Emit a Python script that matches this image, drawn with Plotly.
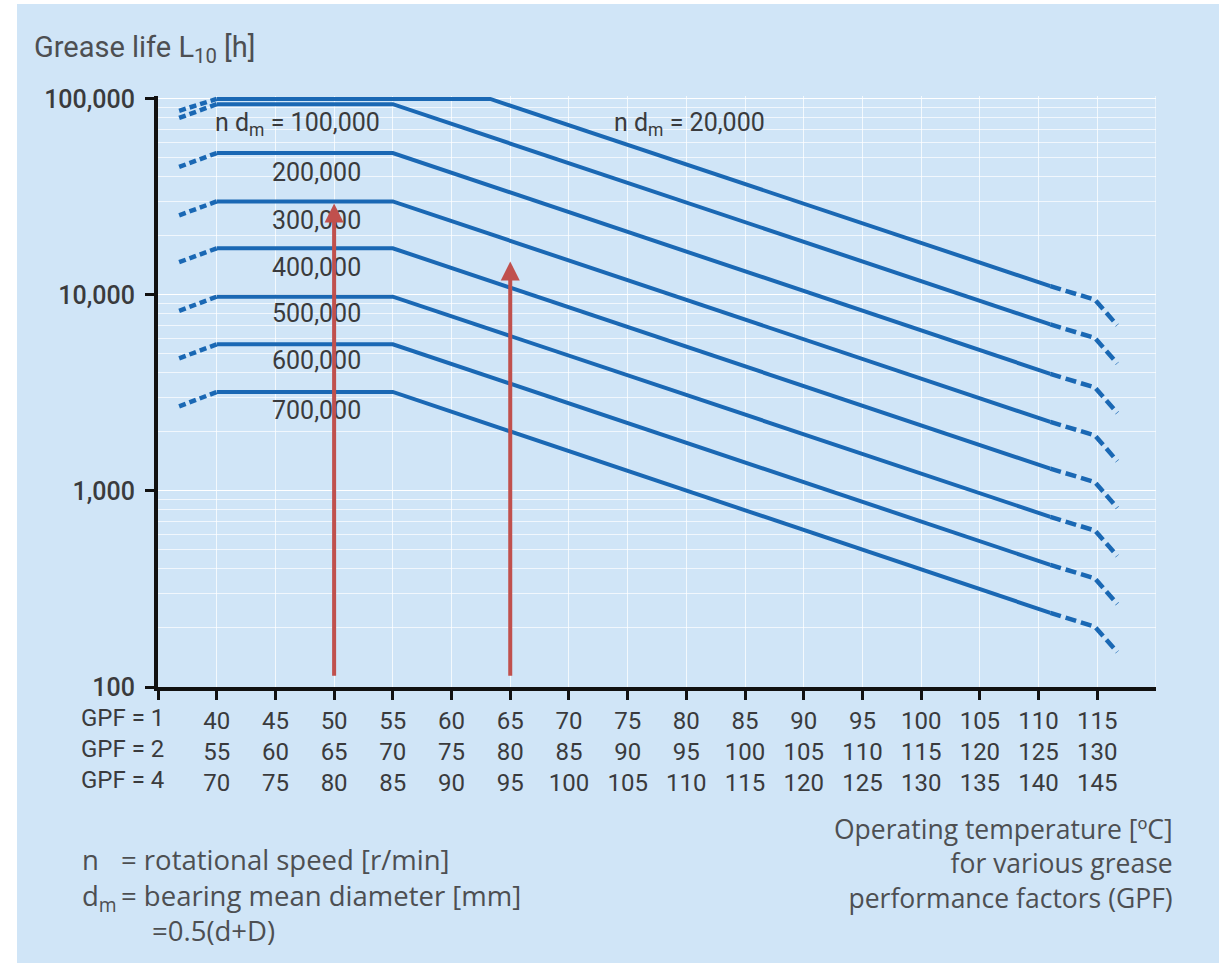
import math
import plotly.graph_objects as go

# ---------------- data ----------------
series_names = ["n d<sub>m</sub> = 20,000", "100,000", "200,000", "300,000",
                "400,000", "500,000", "600,000", "700,000"]

# temperatures (GPF = 1 scale, °C)
left_dash_temp = 36.8
plateau_start_temp = 40
knee_temps = [63.3, 55, 55, 55, 55, 55, 55, 55]
solid_end_temp = 111
dash_mid_temp = 114.8
dash_end_temp = 116.7

# grease life L10 [h]
left_start_life = [87000, 80000, 45000, 25500, 14700, 8300, 4750, 2700]
plateau_life = [100000, 94000, 53000, 30000, 17300, 9800, 5600, 3200]
solid_end_life = [11100, 7080, 3960, 2250, 1300, 738, 420, 239]
dash_mid_life = [9450, 6030, 3370, 1920, 1110, 628, 358, 203]
dash_end_life = [7000, 4470, 2500, 1420, 820, 466, 265, 151]

# curve labels
label_texts = ["n d<sub>m</sub> = 20,000", "n d<sub>m</sub> = 100,000", "200,000", "300,000",
               "400,000", "500,000", "600,000", "700,000"]
label_temps = [73.7, 39.7, 48.5, 48.5, 48.5, 48.5, 48.5, 48.5]
label_life = [74500, 74500, 42200, 24000, 13800, 8050, 4630, 2570]
label_anchor = ["left", "left", "center", "center", "center", "center", "center", "center"]

# x axis tick labels for three grease performance factors
x_ticks = [40, 45, 50, 55, 60, 65, 70, 75, 80, 85, 90, 95, 100, 105, 110, 115]
gpf1 = ["40", "45", "50", "55", "60", "65", "70", "75", "80", "85", "90", "95", "100", "105", "110", "115"]
gpf2 = ["55", "60", "65", "70", "75", "80", "85", "90", "95", "100", "105", "110", "115", "120", "125", "130"]
gpf4 = ["70", "75", "80", "85", "90", "95", "100", "105", "110", "115", "120", "125", "130", "135", "140", "145"]

y_ticks = [100, 1000, 10000, 100000]
y_tick_labels = ["100", "1,000", "10,000", "100,000"]

# red arrows
arrow_temps = [50, 65]
arrow_base_life = [112, 112]
arrow_tip_life = [29300, 14800]

# ---------------- styling ----------------
W, H = 1227, 963
L, R, T, B = 158, 71, 96, 276
PW, PH = W - L - R, H - T - B
BG = "#d0e5f7"
LINE = "#1a68b4"
TXT = "#4d4f52"
TICKTXT = "#3a3b3d"
ARROW = "#c0504d"
FONT = "Roboto, sans-serif"
FONT2 = "'Open Sans', sans-serif"
GRID = "rgba(255,255,255,0.75)"


def px_x(px):
    return (px - L) / PW


def px_y(py):
    return (H - B - py) / PH


fig = go.Figure()

for i in range(len(series_names)):
    # left dashed part
    fig.add_trace(go.Scatter(
        x=[left_dash_temp, plateau_start_temp],
        y=[left_start_life[i], plateau_life[i]],
        mode="lines", line=dict(color=LINE, width=4.5, dash="7px,4px"),
        hoverinfo="skip", showlegend=False))
    # solid part
    fig.add_trace(go.Scatter(
        x=[plateau_start_temp, knee_temps[i], solid_end_temp],
        y=[plateau_life[i], plateau_life[i], solid_end_life[i]],
        mode="lines", line=dict(color=LINE, width=4),
        name=series_names[i], showlegend=False))
    # right dashed part
    fig.add_trace(go.Scatter(
        x=[solid_end_temp, dash_mid_temp, dash_end_temp],
        y=[solid_end_life[i], dash_mid_life[i], dash_end_life[i]],
        mode="lines", line=dict(color=LINE, width=4.5, dash="11px,5px"),
        hoverinfo="skip", showlegend=False))

annotations = []

for t, x, yv, anc in zip(label_texts, label_temps, label_life, label_anchor):
    annotations.append(dict(
        x=x, y=math.log10(yv), xref="x", yref="y", text=t, showarrow=False,
        xanchor=anc, yanchor="middle", font=dict(family=FONT, size=25, color=TICKTXT)))

# y axis title
annotations.append(dict(
    x=px_x(32), y=px_y(49), xref="paper", yref="paper",
    text="Grease life L<sub>10</sub> [h]", showarrow=False,
    xanchor="left", yanchor="middle", font=dict(family=FONT, size=29, color=TXT)))

# GPF row labels
annotations.append(dict(
    x=px_x(166), y=px_y(749), xref="paper", yref="paper",
    text="GPF = 1<br>GPF = 2<br>GPF = 4", showarrow=False, align="right",
    xanchor="right", yanchor="middle", font=dict(family=FONT, size=24, color=TICKTXT)))

# bottom-left legend text
bl_font = dict(family=FONT2, size=27.5, color=TXT)
bl = [
    dict(x=px_x(80), y=px_y(859), text="n", xanchor="left"),
    dict(x=px_x(119), y=px_y(859), text="= rotational speed [r/min]", xanchor="left"),
    dict(x=px_x(80), y=px_y(897), text="d<sub>m</sub>", xanchor="left"),
    dict(x=px_x(119), y=px_y(895), text="= bearing mean diameter [mm]", xanchor="left"),
    dict(x=px_x(150), y=px_y(930), text="=0.5(d+D)", xanchor="left"),
]
for a in bl:
    a.update(xref="paper", yref="paper", showarrow=False, yanchor="middle", font=bl_font)
annotations += bl

# bottom-right axis description (one multi-line text)
annotations.append(dict(
    x=px_x(1175), y=px_y(863), xref="paper", yref="paper",
    text="Operating temperature [ºC]<br>for various grease<br>performance factors (GPF)",
    showarrow=False, align="right", xanchor="right", yanchor="middle",
    font=dict(family=FONT2, size=26.5, color=TXT)))

# red arrows (drawn last so they sit on top of the labels)
for xt, yb, ytip in zip(arrow_temps, arrow_base_life, arrow_tip_life):
    annotations.append(dict(
        x=xt, y=math.log10(ytip), ax=xt, ay=math.log10(yb),
        xref="x", yref="y", axref="x", ayref="y", text="",
        showarrow=True, arrowhead=2, arrowsize=0.95, arrowwidth=4,
        arrowcolor=ARROW, standoff=0))

shapes = [
    # light blue panel
    dict(type="rect", xref="paper", yref="paper",
         x0=px_x(17), x1=px_x(1219), y0=px_y(963), y1=px_y(4),
         fillcolor=BG, line=dict(width=0), layer="below"),
    # right border gridline of the plotting grid
    dict(type="line", xref="x", yref="paper", x0=120, x1=120, y0=0, y1=1,
         line=dict(color=GRID, width=1.2), layer="below"),
]

fig.update_layout(
    width=W, height=H,
    margin=dict(l=L, r=R, t=T, b=B, pad=0),
    paper_bgcolor="white", plot_bgcolor=BG,
    font=dict(family=FONT, color=TICKTXT),
    showlegend=False,
    annotations=annotations, shapes=shapes,
    xaxis=dict(
        range=[35, 120], tickmode="array", tickvals=x_ticks,
        ticktext=[f"{a}<br>{b}<br>{c}" for a, b, c in zip(gpf1, gpf2, gpf4)],
        tickfont=dict(family=FONT, size=24, color=TICKTXT),
        ticks="outside", ticklen=9, tickwidth=3, tickcolor="#111",
        showline=True, linecolor="#111", linewidth=4,
        showgrid=True, gridcolor=GRID, gridwidth=1.2, zeroline=False,
        minor=dict(tickvals=[35], ticks="outside", ticklen=9, tickwidth=3,
                   tickcolor="#111", showgrid=False),
    ),
    yaxis=dict(
        type="log", range=[2, 5.015], tickmode="array", tickvals=y_ticks,
        ticktext=y_tick_labels,
        tickfont=dict(family=FONT, size=25, color=TICKTXT, weight=500),
        ticks="outside", ticklen=9, tickwidth=3, tickcolor="#111",
        showline=True, linecolor="#111", linewidth=4,
        showgrid=True, gridcolor="white", gridwidth=1.2, zeroline=False,
        minor=dict(showgrid=True, gridcolor="rgba(255,255,255,0.7)", gridwidth=1,
                   dtick="D1", ticks=""),
        ticklabelstandoff=5,
    ),
)

fig.write_html("out.html", config={"displayModeBar": False},
               post_script="document.body.style.margin='0';")
